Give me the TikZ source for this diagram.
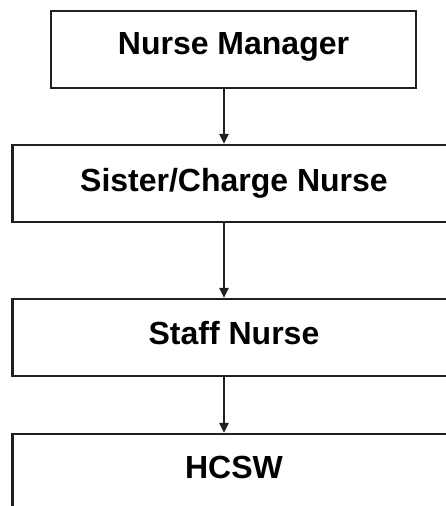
\documentclass[tikz,border=0pt]{standalone}
\usepackage{fontspec}
\setmainfont{Liberation Sans}
\newcommand*{\rolefont}{\bfseries\fontsize{32}{38}\selectfont}
\definecolor{edge}{cmyk}{0.00,0.00,0.00,1.00}
\usetikzlibrary{arrows.meta}
\tikzstyle{base}=[x=1pt, y=-1pt, line width=2.2pt]
\tikzstyle{role}=[draw=edge, inner sep=0pt, minimum height=77pt, text height=23pt, font=\rolefont]
\tikzstyle{down}=[draw=edge, -{Triangle[length=10pt,width=9pt]}]

\begin{document}
\begin{tikzpicture}[base]
    \useasboundingbox (0,0) rectangle (445,506);
        \node [role, minimum width=365pt, text depth=14pt] (manager) at (233.5,49.5) {Nurse Manager};
        \node [role, minimum width=443pt, text depth=8pt] (sister) at (234,183.5) {Sister/Charge Nurse};
        \node [role, minimum width=443pt, text depth=10pt] (staff) at (234,337.5) {Staff Nurse};
        \node [role, minimum width=443pt, text depth=12pt] (hcsw) at (234,472.5) {HCSW};
        \coordinate (spine) at (224,0);
        \draw [down] (manager.south -| spine) -- (sister.north -| spine);
        \draw [down] (sister.south -| spine) -- (staff.north -| spine);
        \draw [down] (staff.south -| spine) -- (hcsw.north -| spine);
\end{tikzpicture}
\end{document}
